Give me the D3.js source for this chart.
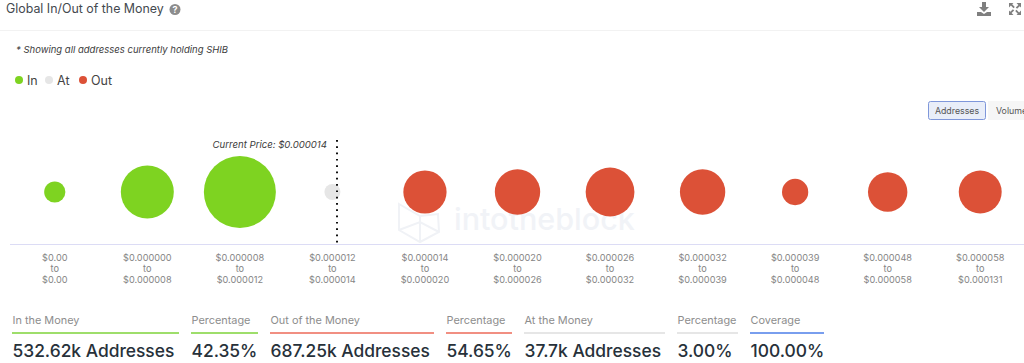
<!DOCTYPE html>
<html>
<head>
<meta charset="utf-8">
<script src="https://cdn.jsdelivr.net/npm/d3@7"></script>
<style>
  html, body { margin: 0; padding: 0; background: #fff; overflow: hidden; }
  text { font-family: Inter, "Noto Sans", sans-serif; }
</style>
</head>
<body>
<div id="chart"></div>
<script>
const rangeLow = ["$0.00", "$0.000000", "$0.000008", "$0.000012", "$0.000014", "$0.000020", "$0.000026", "$0.000032", "$0.000039", "$0.000048", "$0.000058"];
const rangeHigh = ["$0.00", "$0.000008", "$0.000012", "$0.000014", "$0.000020", "$0.000026", "$0.000032", "$0.000039", "$0.000048", "$0.000058", "$0.000131"];
// addresses per price band, in thousands (totals match the footer)
const addresses = [50, 125, 357.62, 37.7, 102, 107, 115, 107, 62, 93, 101.25];
const status = ["In", "In", "In", "At", "Out", "Out", "Out", "Out", "Out", "Out", "Out"];

const legendKeys = ["In", "At", "Out"];
const statLabels = ["In the Money", "Percentage", "Out of the Money", "Percentage", "At the Money", "Percentage", "Coverage"];
const statValues = ["532.62k Addresses", "42.35%", "687.25k Addresses", "54.65%", "37.7k Addresses", "3.00%", "100.00%"];
const statKeys = ["In", "In", "Out", "Out", "At", "At", "Coverage"];
const statEdges = [12, 179, 191, 258, 270, 434, 446, 512, 524, 665, 677, 738, 750, 824];

const colors = { In: "#7ed321", At: "#e6e6e6", Out: "#dc5137", Coverage: "#4d7ee8" };
const statColors = { In: "#7ed33a", At: "#dedede", Out: "#ec6a58", Coverage: "#4d7ee8" };

const width = 1024, height = 363;

const svg = d3.select("#chart").append("svg")
  .attr("width", width)
  .attr("height", height)
  .style("display", "block");

// header
svg.append("text").attr("x", 6).attr("y", 13)
  .attr("font-size", 12.4).attr("font-weight", 400).attr("fill", "#44494f")
  .text("Global In/Out of the Money");
svg.append("circle").attr("cx", 175).attr("cy", 9.5).attr("r", 5.5).attr("fill", "#8c8c8c");
svg.append("text").attr("x", 175).attr("y", 13).attr("text-anchor", "middle")
  .attr("font-size", 9).attr("font-weight", 700).attr("fill", "#fff").text("?");
svg.append("line").attr("x1", 0).attr("x2", width).attr("y1", 30.5).attr("y2", 30.5)
  .attr("stroke", "#f2f2f2");

// download icon
svg.append("path").attr("transform", "translate(977,2)")
  .attr("d", "M5 0h4v5h3l-5 5l-5-5h3z M0 10h4l3 2l3-2h4v4h-14z")
  .attr("fill", "#7f7f7f");
// fullscreen icon
svg.append("g").attr("transform", "translate(1015,9)")
  .selectAll("path")
  .data([0, 90, 180, 270])
  .enter()
  .append("path")
  .attr("transform", (d) => `rotate(${d})`)
  .attr("d", "M-6-6h4.5l-1.3 1.3l2.6 2.6l-1.3 1.3l-2.6-2.6l-1.9 1.9z")
  .attr("fill", "#7f7f7f");

svg.append("text").attr("x", 16).attr("y", 53)
  .attr("font-size", 9.5).attr("font-style", "italic").attr("fill", "#3c3c3c")
  .text("* Showing all addresses currently holding SHIB");

// legend
const legendX = d3.scaleOrdinal().domain(legendKeys).range([19, 49, 83]);
const legend = svg.selectAll(".legend").data(legendKeys).enter().append("g")
  .attr("class", "legend")
  .attr("transform", (d) => `translate(${legendX(d)},80)`);
legend.append("circle").attr("r", 4).attr("fill", (d) => colors[d]);
legend.append("text").attr("x", 8).attr("y", 4.5)
  .attr("font-size", 12.5).attr("fill", "#444").text((d) => d);

// toggle buttons
svg.append("rect").attr("x", 928.5).attr("y", 101.5).attr("width", 57).attr("height", 18).attr("rx", 2)
  .attr("fill", "#e9eef9").attr("stroke", "#7f97da");
svg.append("text").attr("x", 957).attr("y", 114).attr("text-anchor", "middle")
  .attr("font-size", 8.8).attr("fill", "#555").text("Addresses");
svg.append("rect").attr("x", 988).attr("y", 101).attr("width", 50).attr("height", 19)
  .attr("fill", "#f6f6f6");
svg.append("text").attr("x", 996).attr("y", 114)
  .attr("font-size", 8.8).attr("fill", "#555").text("Volume");

// watermark
const mark = svg.append("g").attr("fill", "none").attr("stroke", "#f0f2f6").attr("stroke-width", 2);
mark.append("path").attr("d", "M399 204L420 216L438 214L439 232L420 242L399 230Z M399 204L399 230 M420 216L420 242 M399 230L420 222L439 232");
svg.append("text").attr("x", 454).attr("y", 230)
  .attr("font-size", 30.5).attr("font-weight", 500).attr("fill", "#f1f3f7")
  .text("intotheblock");

// bubbles
const x = d3.scaleBand().domain(d3.range(rangeLow.length)).range([8.5, 1026.5]);
// radius flattens out above ~125k so the biggest bubble stays inside the plot
const r = d3.scaleLinear().domain([0, 125, d3.max(addresses)]).range([0, 26.5, 36]);
const cy = 192;

svg.append("g").attr("class", "bubbles")
  .selectAll("circle")
  .data(addresses)
  .enter()
  .append("circle")
  .attr("cx", (d, i) => x(i) + x.bandwidth() / 2)
  .attr("cy", cy)
  .attr("r", (d) => r(d))
  .attr("fill", (d, i) => colors[status[i]]);

// axis with three line tick labels
const xAxis = d3.axisBottom(x).tickSize(0).tickFormat("");
const axisG = svg.append("g").attr("transform", "translate(0,244.5)").call(xAxis);
axisG.select(".domain").remove();
svg.append("line").attr("x1", 10).attr("x2", width).attr("y1", 244.5).attr("y2", 244.5)
  .attr("stroke", "#dcdcf5");
axisG.selectAll(".tick text").each(function (d) {
  const t = d3.select(this).attr("y", 0).attr("dy", null)
    .attr("font-size", 9.2).attr("fill", "#858585");
  [rangeLow[d], "to", rangeHigh[d]].forEach((line, i) => {
    t.append("tspan").attr("x", 0).attr("y", 16 + i * 11).text(line);
  });
});

// current price marker
svg.append("line").attr("x1", 337).attr("x2", 337).attr("y1", 140).attr("y2", 245)
  .attr("stroke", "#111").attr("stroke-width", 2).attr("stroke-dasharray", "1.7 4.6");
svg.append("text").attr("x", 327).attr("y", 148).attr("text-anchor", "end")
  .attr("font-size", 9.6).attr("font-style", "italic").attr("fill", "#3c3c3c")
  .text("Current Price: $0.000014");

// footer stats
const stats = svg.selectAll(".stat").data(statLabels).enter().append("g").attr("class", "stat");
stats.append("text").attr("x", (d, i) => statEdges[i * 2] + 0.5).attr("y", 324)
  .attr("font-size", 10.9).attr("fill", "#8d8d8d").text((d) => d);
stats.append("line")
  .attr("x1", (d, i) => statEdges[i * 2]).attr("x2", (d, i) => statEdges[i * 2 + 1])
  .attr("y1", 333).attr("y2", 333)
  .attr("stroke-width", 1.6)
  .attr("stroke", (d, i) => statColors[statKeys[i]]);
stats.append("text").attr("x", (d, i) => statEdges[i * 2] + 0.5).attr("y", 357)
  .attr("font-size", 17.4).attr("font-weight", 500).attr("fill", "#27313a")
  .text((d, i) => statValues[i]);
</script>
</body>
</html>
